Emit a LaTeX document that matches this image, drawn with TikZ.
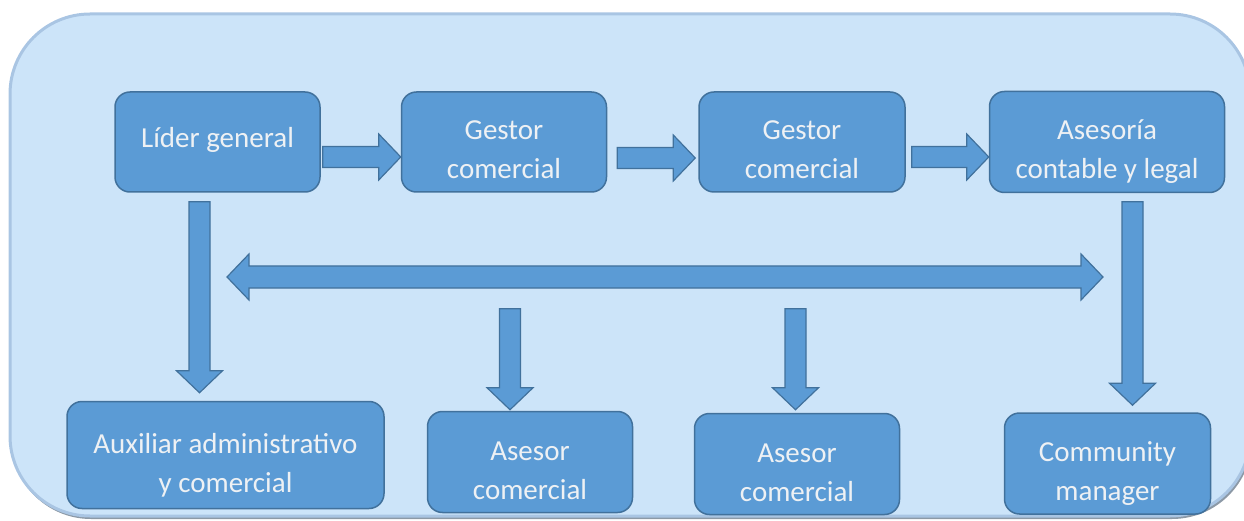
\documentclass[tikz,border=0pt]{standalone}
\usepackage{fontspec}
\setmainfont{Carlito}
\usepackage{tikz}
\usetikzlibrary{positioning, calc}

\definecolor{fondo}{HTML}{CCE4F9}
\definecolor{bordefondo}{HTML}{A9C5E3}
\definecolor{sombra}{HTML}{8C99A6}
\definecolor{azulcaja}{HTML}{5B9BD5}
\definecolor{bordecaja}{HTML}{41719C}
\definecolor{letra}{HTML}{EEF1F4}

\begin{document}
\begin{tikzpicture}[x=1pt, y=-1pt,
  caja/.style={draw=bordecaja, line width=1.5pt, fill=azulcaja, rounded corners=15pt, minimum width=205pt, minimum height=100pt, text=letra, font=\fontsize{29}{39}\selectfont, align=center},
  dos/.style={text height=74pt, text depth=0pt},
  flecha/.style={fill=azulcaja, draw=bordecaja, line width=1.2pt,
    to path={($(\tikztotarget)!22pt!(\tikztostart)$) coordinate (fb)
      ($(\tikztostart)!10.5pt!90:(\tikztotarget)$)
      -- ($(fb)!10.5pt!-90:(\tikztostart)$) -- ($(fb)!23pt!-90:(\tikztostart)$)
      -- (\tikztotarget)
      -- ($(fb)!23pt!90:(\tikztostart)$) -- ($(fb)!10.5pt!90:(\tikztostart)$)
      -- ($(\tikztostart)!10.5pt!-90:(\tikztotarget)$) -- cycle}},
  flechadoble/.style={fill=azulcaja, draw=bordecaja, line width=1.2pt,
    to path={($(\tikztostart)!22pt!(\tikztotarget)$) coordinate (fa)
      ($(\tikztotarget)!22pt!(\tikztostart)$) coordinate (fb)
      (\tikztostart) -- ($(fa)!23pt!90:(\tikztotarget)$) -- ($(fa)!11pt!90:(\tikztotarget)$)
      -- ($(fb)!11pt!-90:(\tikztostart)$) -- ($(fb)!23pt!-90:(\tikztostart)$)
      -- (\tikztotarget)
      -- ($(fb)!23pt!90:(\tikztostart)$) -- ($(fb)!11pt!90:(\tikztostart)$)
      -- ($(fa)!11pt!-90:(\tikztotarget)$) -- ($(fa)!23pt!-90:(\tikztotarget)$) -- cycle}}]
  \useasboundingbox (0,0) rectangle (1244,521);
  % fondo
  \fill [sombra, rounded corners=80pt] (11,16) rectangle (1252,519);
  \draw [fill=fondo, draw=bordefondo, line width=3pt, rounded corners=80pt] (10,14) rectangle (1250,516);

  \node (lider) [caja, text height=18pt, text depth=6pt] at (217.5,142) {Líder general};
  \node (gestorA) [caja, dos, right=80pt of lider] {Gestor\\comercial};
  \node (gestorB) [caja, dos, right=91pt of gestorA, minimum width=206pt] {Gestor\\comercial};
  \node (asesoria) [caja, dos, right=83pt of gestorB, minimum width=235pt, minimum height=101pt] {Asesoría\\contable y legal};

  \node (auxiliar) [caja, dos, below=208pt of lider, xshift=8pt, minimum width=317pt, minimum height=107pt] {Auxiliar administrativo\\y comercial};
  \node (asesorA) [caja, dos, below=218pt of gestorA, xshift=26pt, minimum height=101pt] {Asesor\\comercial};
  \node (asesorB) [caja, dos, below=220pt of gestorB, xshift=-5pt, minimum height=101pt] {Asesor\\comercial};
  \node (community) [caja, dos, below=219pt of asesoria, xshift=0.5pt, minimum width=206pt, minimum height=101pt] {Community\\manager};

  \coordinate (izq) at (227,277);
  \coordinate (der) at (1103,277);

  \draw [flecha] ([xshift=2pt, yshift=-15pt]lider.east) to ([yshift=-15pt]gestorA.west);
  \draw [flecha] ([xshift=10pt, yshift=-16pt]gestorA.east) to ([xshift=-3pt, yshift=-16pt]gestorB.west);
  \draw [flecha] ([xshift=6pt, yshift=-15pt]gestorB.east) to ([yshift=-15pt]asesoria.west);
  \draw [flecha] ([xshift=-18pt, yshift=-9pt]lider.south) to ([xshift=-26pt, yshift=8pt]auxiliar.north);
  \draw [flecha] ([xshift=25.5pt, yshift=-8.5pt]asesoria.south) to ([xshift=25pt, yshift=7pt]community.north);
  \draw [flechadoble] (izq) to (der);
  \draw [flecha] ([xshift=-20pt, yshift=102pt]asesorA.north) to ([xshift=-20pt, yshift=1pt]asesorA.north);
  \draw [flecha] ([xshift=-1.5pt, yshift=104pt]asesorB.north) to ([xshift=-1.5pt, yshift=3pt]asesorB.north);
\end{tikzpicture}
\end{document}
